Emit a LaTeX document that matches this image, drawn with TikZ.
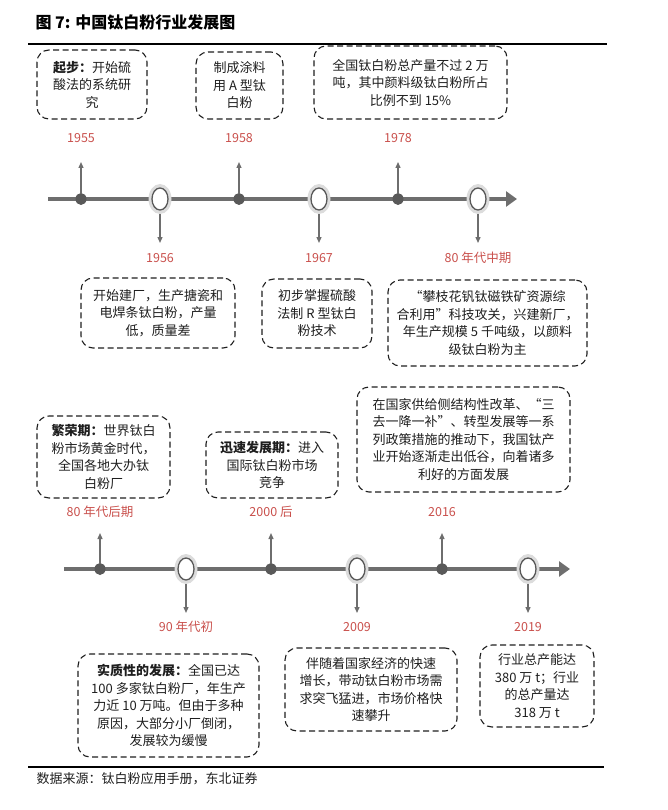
\documentclass[tikz,border=0pt]{standalone}
\usepackage{fontspec}
\setmainfont{Noto Sans CJK SC}
\usetikzlibrary{arrows.meta,shapes.geometric,positioning}

\definecolor{yearred}{HTML}{C9504C}
\definecolor{linegray}{HTML}{6E6E6E}
\definecolor{dotgray}{HTML}{595959}
\definecolor{halogray}{HTML}{DCDCDC}
\definecolor{textdark}{HTML}{1E1E1E}

\newcommand{\notefont}{\fontsize{13}{17.5}\selectfont}

\tikzset{
  note/.style={draw=textdark, dash pattern=on 6pt off 3.5pt, line width=1.1pt,
    rounded corners=12pt, align=center, font=\notefont, text=textdark, inner sep=0pt},
  yearlabel/.style={text=yearred, font=\fontsize{12.5}{14}\selectfont, inner sep=1pt},
  milestone/.style={ellipse, fill=dotgray, minimum width=11pt, minimum height=12pt, inner sep=0pt},
  halo/.style={ellipse, fill=halogray, minimum width=23pt, minimum height=30pt, inner sep=0pt},
  ring/.style={ellipse, draw=dotgray, line width=1.3pt, fill=white, minimum width=16pt, minimum height=22pt, inner sep=0pt},
  pointer/.style={draw=linegray, line width=1.3pt, -{Triangle[width=5pt,length=6pt]}},
  axis/.style={draw=linegray, line width=4pt, -{Triangle[width=15pt,length=11pt]}}
}

\begin{document}
\begin{tikzpicture}[x=1pt,y=-1pt]
  \useasboundingbox (0,0) rectangle (667,810);

  % Title and rules
  \node[anchor=west, font=\fontsize{16}{18}\selectfont\bfseries] (title) at (32,22) {图 7: 中国钛白粉行业发展图};
  \coordinate (ruleTL) at (28,44);
  \coordinate (ruleTR) at (607,44);
  \draw[line width=2pt] (ruleTL) -- (ruleTR);
  \coordinate (ruleBL) at (28,767);
  \coordinate (ruleBR) at (604,767);
  \draw[line width=2pt] (ruleBL) -- (ruleBR);
  \node[anchor=west, font=\fontsize{13}{15}\selectfont, text=textdark] (source) at (33,779) {数据来源：钛白粉应用手册，东北证券};

  % First timeline
  \coordinate (axisAs) at (48,199);
  \coordinate (axisAe) at (517,199);
  \draw[axis] (axisAs) -- (axisAe);

  \node[milestone] (d55) at (81,199) {};
  \node[halo] (h56) at (160,199) {};
  \node[ring] (c56) at (160,199) {};
  \node[milestone] (d58) at (239,199) {};
  \node[halo] (h67) at (319,199) {};
  \node[ring] (c67) at (319,199) {};
  \node[milestone] (d78) at (398,199) {};
  \node[halo] (h80m) at (478,199) {};
  \node[ring] (c80m) at (478,199) {};

  \coordinate (t55) at (81,162);
  \coordinate (t58) at (239,162);
  \coordinate (t78) at (398,162);
  \coordinate (t56) at (160,243);
  \coordinate (t67) at (319,243);
  \coordinate (t80m) at (478,243);
  \draw[pointer] (d55) -- (t55);
  \draw[pointer] (d58) -- (t58);
  \draw[pointer] (d78) -- (t78);
  \draw[pointer] (h56) -- (t56);
  \draw[pointer] (h67) -- (t67);
  \draw[pointer] (h80m) -- (t80m);

  \node[yearlabel] (y55) at (81,138) {1955};
  \node[yearlabel] (y58) at (239,138) {1958};
  \node[yearlabel] (y78) at (398,138) {1978};
  \node[yearlabel] (y56) at (160,258) {1956};
  \node[yearlabel] (y67) at (319,258) {1967};
  \node[yearlabel] (y80m) at (478,258) {80 年代中期};

  \node[note, minimum width=110pt, minimum height=69pt] (start) at (92,84.5)
    {\textbf{起步：}开始硫\\酸法的系统研\\究};
  \node[note, minimum width=87pt, minimum height=67pt] (coating) at (239.5,85.5)
    {制成涂料\\用 A 型钛\\白粉};
  \node[note, minimum width=193pt, minimum height=73pt] (output78) at (410.5,82.5)
    {全国钛白粉总产量不过 2 万\\吨，其中颜料级钛白粉所占\\比例不到 15\%};
  \node[note, minimum width=154pt, minimum height=70pt] (plant56) at (158,313)
    {开始建厂，生产搪瓷和\\电焊条钛白粉，产量\\低，质量差};
  \node[note, minimum width=110pt, minimum height=69pt] (rutile67) at (317,313.5)
    {初步掌握硫酸\\法制 R 型钛白\\粉技术};
  \node[note, minimum width=199pt, minimum height=86pt] (panzhihua) at (487.5,323)
    {“攀枝花钒钛磁铁矿资源综\\合利用”科技攻关，兴建新厂，\\年生产规模 5 千吨级，以颜料\\级钛白粉为主};

  % Second timeline
  \coordinate (axisBs) at (64,569);
  \coordinate (axisBe) at (570,569);
  \draw[axis] (axisBs) -- (axisBe);

  \node[milestone] (d80l) at (100,569) {};
  \node[halo] (h90) at (186,569) {};
  \node[ring] (c90) at (186,569) {};
  \node[milestone] (d00) at (271,569) {};
  \node[halo] (h09) at (357,569) {};
  \node[ring] (c09) at (357,569) {};
  \node[milestone] (d16) at (442,569) {};
  \node[halo] (h19) at (528,569) {};
  \node[ring] (c19) at (528,569) {};

  \coordinate (t80l) at (100,533);
  \coordinate (t00) at (271,533);
  \coordinate (t16) at (442,533);
  \coordinate (t90) at (186,613);
  \coordinate (t09) at (357,613);
  \coordinate (t19) at (528,613);
  \draw[pointer] (d80l) -- (t80l);
  \draw[pointer] (d00) -- (t00);
  \draw[pointer] (d16) -- (t16);
  \draw[pointer] (h90) -- (t90);
  \draw[pointer] (h09) -- (t09);
  \draw[pointer] (h19) -- (t19);

  \node[yearlabel] (y80l) at (100,512) {80 年代后期};
  \node[yearlabel] (y00) at (271,512) {2000 后};
  \node[yearlabel] (y16) at (442,512) {2016};
  \node[yearlabel] (y90) at (186,627) {90 年代初};
  \node[yearlabel] (y09) at (357,627) {2009};
  \node[yearlabel] (y19) at (528,627) {2019};

  \node[note, minimum width=133pt, minimum height=82pt] (boom) at (103.5,457)
    {\textbf{繁荣期：}世界钛白\\粉市场黄金时代，\\全国各地大办钛\\白粉厂};
  \node[note, minimum width=132pt, minimum height=66pt] (rapid) at (272,465)
    {\textbf{迅速发展期：}进入\\国际钛白粉市场\\竞争};
  \node[note, minimum width=213pt, minimum height=105pt] (reform) at (463.5,439.5)
    {在国家供给侧结构性改革、“三\\去一降一补”、转型发展等一系\\列政策措施的推动下，我国钛产\\业开始逐渐走出低谷，向着诸多\\利好的方面发展};
  \node[note, minimum width=181pt, minimum height=103pt] (substantive) at (168.5,705.5)
    {\textbf{实质性的发展：}全国已达\\100 多家钛白粉厂，年生产\\力近 10 万吨。但由于多种\\原因，大部分小厂倒闭，\\发展较为缓慢};
  \node[note, minimum width=172pt, minimum height=83pt] (growth) at (371,689.5)
    {伴随着国家经济的快速\\增长，带动钛白粉市场需\\求突飞猛进，市场价格快\\速攀升};
  \node[note, minimum width=114pt, minimum height=82pt] (capacity) at (537,686)
    {行业总产能达\\380 万 t；行业\\的总产量达\\318 万 t};
\end{tikzpicture}
\end{document}
